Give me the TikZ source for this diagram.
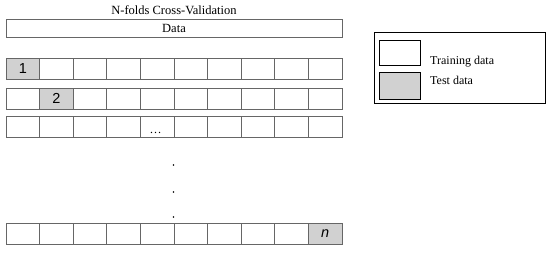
\documentclass[tikz,border=0pt]{standalone}
\usepackage{fontspec}
\setmainfont{Liberation Serif}
\newfontfamily\numfont{Liberation Sans}
\begin{document}
\begin{tikzpicture}[x=1pt,y=-1pt,
  cellbox/.style={draw=black!60,line width=0.8pt,fill=white,minimum width=33.6pt,minimum height=21pt,inner sep=0pt,outer sep=0pt,anchor=north west},
  testcell/.style={cellbox,fill=black!18},
  numtxt/.style={font=\numfont\fontsize{14.5}{15}\selectfont},
  legtxt/.style={font=\fontsize{12}{13}\selectfont,anchor=base west,inner sep=0pt},
  vdot/.style={circle,fill=black,inner sep=0pt,minimum size=1.7pt}]
\useasboundingbox (0,0) rectangle (550,253);
% title and data bar
\node[font=\fontsize{12.5}{13}\selectfont,anchor=base,inner sep=0pt] (title) at (174,15) {N-folds Cross-Validation};
\node[draw=black!60,line width=0.8pt,minimum width=336pt,minimum height=18pt,inner sep=0pt,anchor=north west] (data) at (6,19) {};
\node[font=\fontsize{12.5}{13}\selectfont,anchor=base,inner sep=0pt] (datatxt) at (174,32.5) {Data};
% row 1
\foreach \i in {1,...,10}{
  \pgfmathsetmacro{\xx}{6+(\i-1)*33.6}
  \ifnum\i=1
    \node[testcell,numtxt] (r1c\i) at (\xx,58) {1};
  \else
    \node[cellbox] (r1c\i) at (\xx,58) {};
  \fi
}
% row 2
\foreach \i in {1,...,10}{
  \pgfmathsetmacro{\xx}{6+(\i-1)*33.6}
  \ifnum\i=2
    \node[testcell,numtxt] (r2c\i) at (\xx,88) {2};
  \else
    \node[cellbox] (r2c\i) at (\xx,88) {};
  \fi
}
% row 3
\foreach \i in {1,...,10}{
  \pgfmathsetmacro{\xx}{6+(\i-1)*33.6}
  \node[cellbox] (r3c\i) at (\xx,116) {};
}
\node[font=\fontsize{12}{12}\selectfont,inner sep=0pt,anchor=base] (ell) at (155.5,134) {\dots};
% vertical dots
\node[vdot] (d1) at (173.5,165) {};
\node[vdot] (d2) at (173.5,192) {};
\node[vdot] (d3) at (173.5,217) {};
% last row
\foreach \i in {1,...,10}{
  \pgfmathsetmacro{\xx}{6+(\i-1)*33.6}
  \ifnum\i=10
    \node[testcell,numtxt] (rnc\i) at (\xx,223.5) {\itshape n};
  \else
    \node[cellbox] (rnc\i) at (\xx,223.5) {};
  \fi
}
% legend
\node[draw=black,line width=0.7pt,minimum width=171pt,minimum height=71pt,inner sep=0pt,anchor=north west] (leg) at (374,32) {};
\node[draw=black,line width=0.8pt,fill=white,minimum width=41pt,minimum height=25.5pt,inner sep=0pt,anchor=north west] (legtr) at (379,40) {};
\node[draw=black,line width=0.8pt,fill=black!18,minimum width=41pt,minimum height=27pt,inner sep=0pt,anchor=north west] (legte) at (379,72) {};
\node[legtxt] (ltr) at (430,65) {Training data};
\node[legtxt] (lte) at (430,85) {Test data};
\end{tikzpicture}
\end{document}
